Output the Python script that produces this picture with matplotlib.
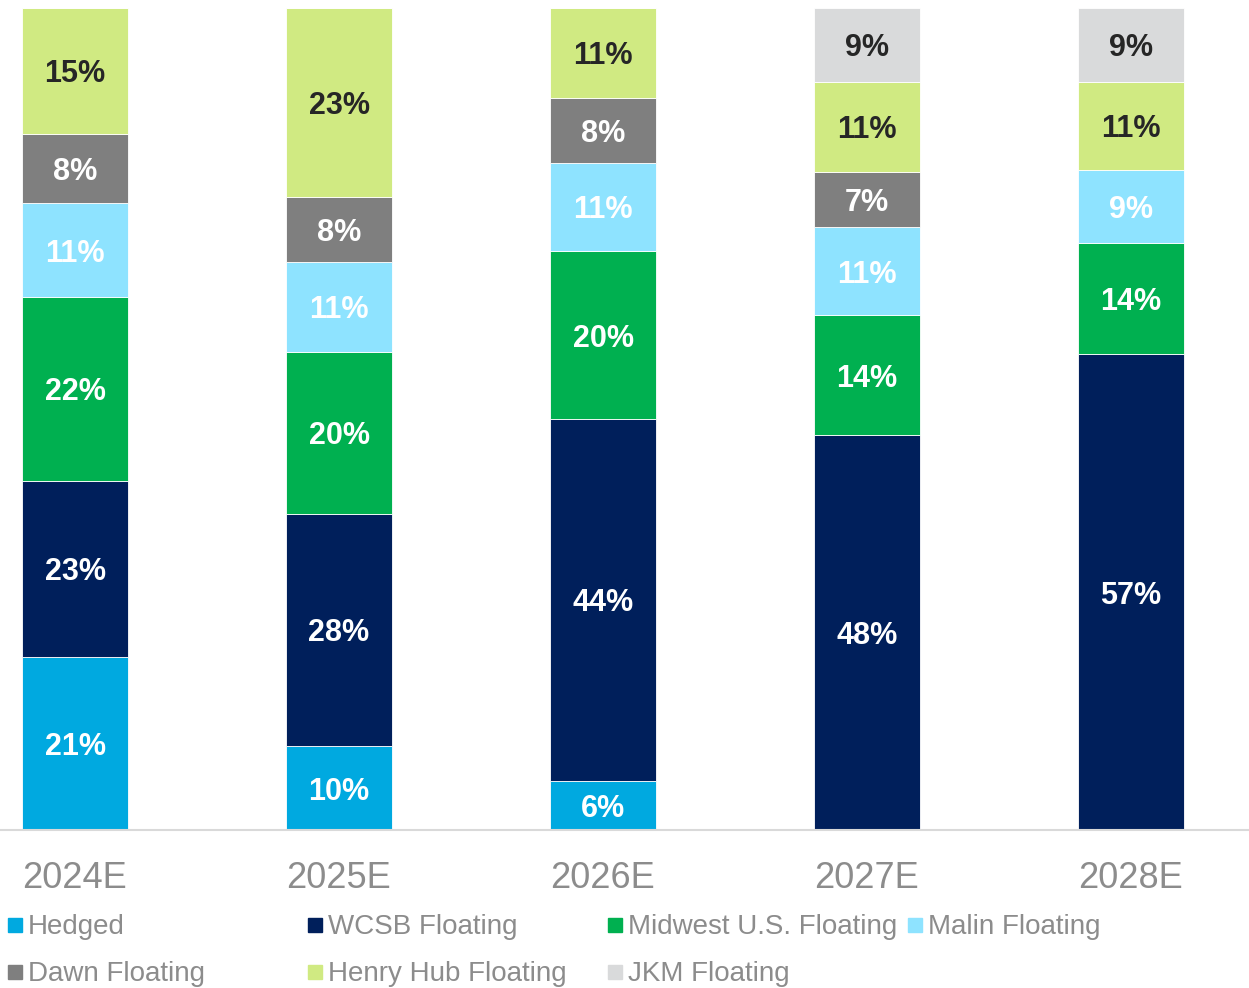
import matplotlib.pyplot as plt
from matplotlib.patches import Rectangle
from matplotlib.transforms import offset_copy

years = ['2024E', '2025E', '2026E', '2027E', '2028E']
series = ['Hedged', 'WCSB Floating', 'Midwest U.S. Floating', 'Malin Floating',
          'Dawn Floating', 'Henry Hub Floating', 'JKM Floating']

# segment heights (% of volume) as drawn in the source
hedged = [21.1, 10.2, 6.0, 0, 0]
wcsb = [21.4, 28.3, 44.0, 48.1, 57.9]
midwest = [22.3, 19.7, 20.4, 14.5, 13.5]
malin = [11.5, 10.9, 10.8, 10.8, 8.9]
dawn = [8.4, 7.9, 7.9, 6.7, 0]
henry_hub = [15.3, 23.0, 10.9, 10.9, 10.7]
jkm = [0, 0, 0, 9.0, 9.0]

# data labels as printed on the source
hedged_lbl = ['21%', '10%', '6%', '', '']
wcsb_lbl = ['23%', '28%', '44%', '48%', '57%']
midwest_lbl = ['22%', '20%', '20%', '14%', '14%']
malin_lbl = ['11%', '11%', '11%', '11%', '9%']
dawn_lbl = ['8%', '8%', '8%', '7%', '']
henry_hub_lbl = ['15%', '23%', '11%', '11%', '11%']
jkm_lbl = ['', '', '', '9%', '9%']

colors = ['#00a9e0', '#001f5b', '#00b050', '#8ee3ff', '#7f7f7f', '#d0ea82', '#d9dadb']
label_colors = ['white', 'white', 'white', 'white', 'white', '#262626', '#262626']

plt.rcParams['font.family'] = ['Liberation Sans', 'DejaVu Sans']

W, H = 1249, 988
fig = plt.figure(figsize=(W / 100, H / 100), dpi=100)
ax = fig.add_axes([0, 1 - 830 / H, 1, 822 / H])
lbl_trans = offset_copy(ax.transData, fig=fig, y=-3.5, units='dots')

x = list(range(len(years)))
bottom = [0] * len(years)
stack = [hedged, wcsb, midwest, malin, dawn, henry_hub, jkm]
labels = [hedged_lbl, wcsb_lbl, midwest_lbl, malin_lbl, dawn_lbl, henry_hub_lbl, jkm_lbl]
for vals, lbls, col, lcol in zip(stack, labels, colors, label_colors):
    ax.bar(x, vals, width=0.4, bottom=bottom, color=col, edgecolor='white', linewidth=0.6)
    for i, v in enumerate(vals):
        if v > 0 and lbls[i]:
            ax.text(i, bottom[i] + v / 2, lbls[i], ha='center', va='center',
                    fontsize=22, fontweight='bold', color=lcol, transform=lbl_trans)
    bottom = [b + v for b, v in zip(bottom, vals)]

ax.set_ylim(0, 100)
ax.set_xlim(-75 / 264, (W - 75) / 264)
ax.set_xticks(x)
ax.set_xticklabels(years, fontsize=26, color='#8c8c8c')
ax.tick_params(axis='x', length=0, pad=22.5)
ax.set_yticks([])
for s in ['top', 'left', 'right']:
    ax.spines[s].set_visible(False)
ax.spines['bottom'].set_color('#d9d9d9')
ax.spines['bottom'].set_linewidth(1.5)

# legend laid out like the source: fixed 300px columns, two rows
legend_pos = [(8, 925), (308, 925), (608, 925), (908, 925),
              (8, 972), (308, 972), (608, 972)]
for k, (px, py) in enumerate(legend_pos):
    fig.patches.append(Rectangle((px / W, 1 - (py + 7) / H), 14 / W, 14 / H,
                                 transform=fig.transFigure, color=colors[k]))
    fig.text((px + 20) / W, 1 - (py + 2) / H, series[k], fontsize=20, color='#8c8c8c',
             ha='left', va='center')

fig.savefig('out.png', dpi=100)
